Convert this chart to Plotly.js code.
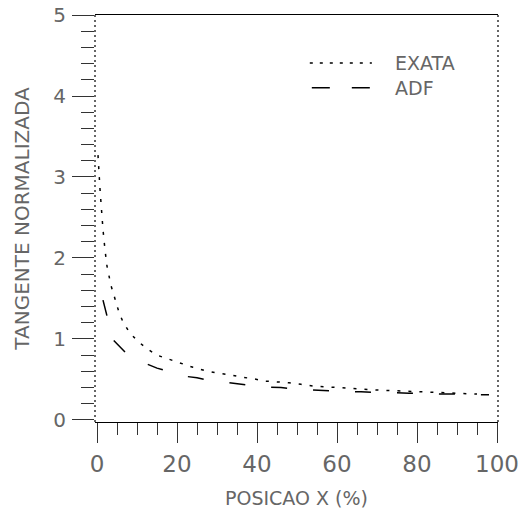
<!DOCTYPE html>
<html>
<head>
<meta charset="utf-8">
<script src="https://cdn.plot.ly/plotly-3.0.1.min.js"></script>
<style>html,body{margin:0;padding:0;background:#fff;}#chart{width:519px;height:512px;}</style>
</head>
<body>
<div id="chart"></div>
<script>
// Series
const exataX = [0.25, 0.5, 0.75, 1, 1.25, 1.5, 2, 2.5, 3.5, 4.5, 5.5, 6.5, 8, 10, 12.5, 15, 18, 21, 24, 27, 30, 33, 36, 39, 42, 45, 48, 51, 54, 57, 60, 65, 70, 75, 80, 85, 90, 95];
const exataY = [3.27, 3.0, 2.85, 2.68, 2.5, 2.35, 2.1, 1.9, 1.66, 1.48, 1.33, 1.21, 1.09, 0.98, 0.88, 0.80, 0.75, 0.70, 0.65, 0.61, 0.58, 0.56, 0.53, 0.51, 0.48, 0.47, 0.46, 0.44, 0.42, 0.41, 0.40, 0.38, 0.37, 0.36, 0.35, 0.34, 0.33, 0.32];
const adfX = [1.5, 2.5, 4, 7, 10, 12, 15, 19, 22, 25, 28, 31.5, 35, 38, 41, 46, 50, 54, 58, 62, 66, 70, 74, 78, 82, 86, 90, 94, 98];
const adfY = [1.48, 1.27, 0.99, 0.84, 0.75, 0.70, 0.64, 0.58, 0.54, 0.52, 0.49, 0.47, 0.45, 0.43, 0.41, 0.40, 0.38, 0.37, 0.36, 0.35, 0.35, 0.34, 0.34, 0.33, 0.33, 0.32, 0.32, 0.31, 0.31];
const seriesNames = ['EXATA', 'ADF'];
const xTicks = [0, 20, 40, 60, 80, 100];
const yTicks = [0, 1, 2, 3, 4, 5];
const xTitle = 'POSICAO X (%)';
const yTitle = 'TANGENTE NORMALIZADA';

const font = {family: 'DejaVu Sans, sans-serif', color: '#555'};
const traces = [
  {x: exataX, y: exataY, name: seriesNames[0], mode: 'lines', line: {color: '#000', width: 1.5, dash: '3px,8px'}, showlegend: false},
  {x: adfX, y: adfY, name: seriesNames[1], mode: 'lines', line: {color: '#000', width: 1.5, dash: '16px,26px'}, showlegend: false}
];

const layout = {
  width: 519, height: 512,
  margin: {l: 95, r: 21, t: 15, b: 90},
  paper_bgcolor: '#fff', plot_bgcolor: '#fff',
  font: font,
  xaxis: {
    range: [-0.5, 100.25], tickvals: xTicks, ticktext: xTicks.map(String),
    showgrid: false, zeroline: false, showline: true, mirror: true, linecolor: '#000', linewidth: 1,
    ticks: 'outside', ticklen: 20, tickcolor: '#333', tickwidth: 1,
    minor: {dtick: 5, tick0: 0, ticks: 'outside', ticklen: 12, tickcolor: '#333', tickwidth: 1},
    tickfont: {size: 23, color: '#666', family: 'DejaVu Sans, sans-serif'},
    ticklabelstandoff: 1,
    title: {text: xTitle, font: {size: 19, color: '#666'}, standoff: 16}
  },
  yaxis: {
    range: [-0.025, 5], tickvals: yTicks, ticktext: yTicks.map(String),
    showgrid: false, zeroline: false, showline: false,
    ticks: 'outside', ticklen: 22, tickcolor: '#333', tickwidth: 1,
    minor: {dtick: 0.2, tick0: 0, ticks: 'outside', ticklen: 13, tickcolor: '#333', tickwidth: 1},
    tickfont: {size: 20, color: '#666', family: 'DejaVu Sans, sans-serif'},
    ticklabelstandoff: 2,
    title: {text: yTitle, font: {size: 20, color: '#666'}, standoff: 18}
  },
  shapes: [
    {type: 'line', xref: 'paper', yref: 'paper', x0: 0, x1: 0, y0: 0, y1: 1, line: {color: '#000', width: 1.2, dash: '2px,3px'}},
    {type: 'line', xref: 'paper', yref: 'paper', x0: 1, x1: 1, y0: 0, y1: 1, line: {color: '#000', width: 1.2, dash: '2px,3px'}},
    {type: 'line', xref: 'paper', yref: 'paper', x0: 0.533, x1: 0.687, y0: 0.882, y1: 0.882, line: {color: '#000', width: 1.5, dash: '3px,7px'}},
    {type: 'line', xref: 'paper', yref: 'paper', x0: 0.538, x1: 0.687, y0: 0.821, y1: 0.821, line: {color: '#000', width: 1.5, dash: '18px,22px'}}
  ],
  annotations: [
    {xref: 'paper', yref: 'paper', x: 0.739, y: 0.882, xanchor: 'left', yanchor: 'middle', text: seriesNames[0], showarrow: false, font: {size: 19, color: '#666'}},
    {xref: 'paper', yref: 'paper', x: 0.739, y: 0.821, xanchor: 'left', yanchor: 'middle', text: seriesNames[1], showarrow: false, font: {size: 19, color: '#666'}}
  ]
};

Plotly.newPlot('chart', traces, layout, {staticPlot: true, displayModeBar: false});
</script>
</body>
</html>
